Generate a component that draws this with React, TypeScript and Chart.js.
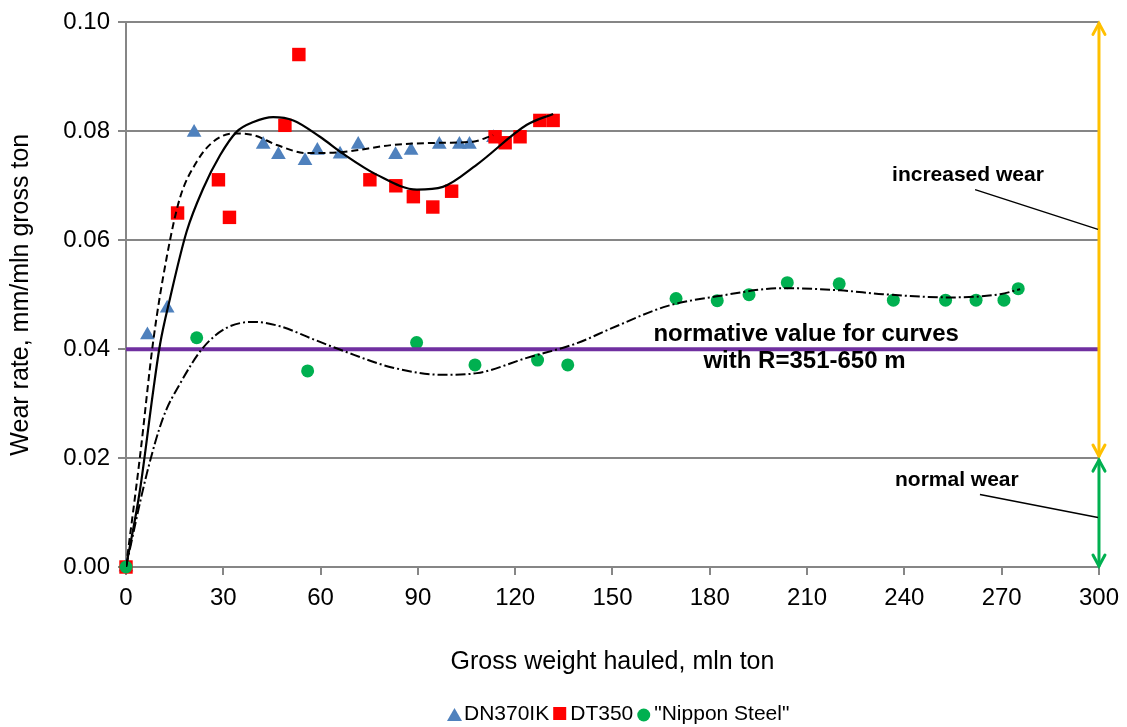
import React, { useEffect, useRef } from 'react';
import { Chart, registerables } from 'chart.js';

Chart.register(...registerables);

// ---- Data ----
const dn370X = [0, 6.6, 12.7, 21.0, 42.3, 47.0, 55.2, 59.0, 66.0, 71.6, 83.1, 87.9, 96.6, 102.8, 105.9, 113.3];
const dn370Y = [0, 0.0426, 0.0475, 0.0798, 0.0776, 0.0757, 0.0746, 0.0765, 0.0758, 0.0776, 0.0757, 0.0765, 0.0776, 0.0776, 0.0776, 0.0788];

const dt350X = [0, 15.9, 28.5, 31.9, 49.0, 53.3, 75.2, 83.2, 88.6, 94.6, 100.4, 113.8, 116.9, 121.5, 127.6, 131.7];
const dt350Y = [0, 0.065, 0.0711, 0.0642, 0.0811, 0.0941, 0.0711, 0.070, 0.068, 0.0661, 0.069, 0.079, 0.0779, 0.079, 0.082, 0.082];

const nipponX = [0, 21.8, 56.0, 89.6, 107.6, 126.9, 136.2, 169.6, 182.3, 192.1, 203.9, 219.9, 236.6, 252.7, 262.1, 270.7, 275.1];
const nipponY = [0, 0.0421, 0.036, 0.0412, 0.0371, 0.038, 0.0371, 0.0493, 0.0489, 0.050, 0.0522, 0.052, 0.049, 0.049, 0.049, 0.049, 0.0511];

// trend curves
const dtTrendX = [0, 4.3, 8.4, 10.5, 13.6, 18.7, 23.8, 29.0, 34.1, 39.3, 45.4, 51.6, 59.8, 66.9, 77.4, 89.7, 97.7, 108.2, 123.6, 131.7];
const dtTrendY = [0, 0.0141, 0.0324, 0.0409, 0.0494, 0.0616, 0.0695, 0.0756, 0.0799, 0.0817, 0.0826, 0.082, 0.079, 0.0759, 0.072, 0.0693, 0.0698, 0.0739, 0.0812, 0.0832];

const dnTrendX = [0, 4.3, 8.4, 12.5, 16.6, 21.8, 26.9, 33.1, 39.3, 46.5, 55.7, 66.9, 82.3, 97.7, 107, 113.2];
const dnTrendY = [0, 0.0202, 0.0415, 0.0567, 0.0677, 0.0744, 0.0781, 0.0796, 0.0793, 0.0775, 0.076, 0.0762, 0.0775, 0.0779, 0.0781, 0.0793];

const nsTrendX = [0, 6.4, 11.5, 16.6, 23.8, 31.0, 39.3, 47.5, 57.8, 66.9, 82.3, 97.7, 108.2, 123.6, 139.1, 149.2, 166.8, 182.2, 202.6, 220.2, 233.4, 254.1, 269.5, 275.7];
const nsTrendY = [0, 0.0171, 0.0275, 0.0336, 0.0403, 0.0439, 0.045, 0.0442, 0.0418, 0.0397, 0.0366, 0.0353, 0.0356, 0.0384, 0.0411, 0.0437, 0.0479, 0.0497, 0.0512, 0.0508, 0.0501, 0.0495, 0.0501, 0.051];

const normativeX = [0, 300];
const normativeY = [0.04, 0.04];

const X_MIN = 0, X_MAX = 300, X_STEP = 30;
const Y_MIN = 0, Y_MAX = 0.1, Y_STEP = 0.02;
const ZONE_X = 300;
const increasedZone = [0.1, 0.02];
const normalZone = [0.02, 0];

const legendLabels = ['DN370IK', 'DT350', '"Nippon Steel"'];
const seriesColors = ['#4F81BD', '#FF0000', '#00B050'];

const FONT = "'Liberation Sans', Arial, sans-serif";

const pts = (xs: number[], ys: number[]) => xs.map((v, i) => ({ x: v, y: ys[i] }));

function drawArrow(ctx: CanvasRenderingContext2D, x: number, y1: number, y2: number, color: string) {
  ctx.save();
  ctx.strokeStyle = color;
  ctx.lineWidth = 3;
  ctx.lineCap = 'round';
  ctx.beginPath();
  ctx.moveTo(x, y1);
  ctx.lineTo(x, y2);
  ctx.stroke();
  const hw = 6, hl = 11;
  ctx.beginPath();
  ctx.moveTo(x - hw, y1 + hl);
  ctx.lineTo(x, y1);
  ctx.lineTo(x + hw, y1 + hl);
  ctx.moveTo(x - hw, y2 - hl);
  ctx.lineTo(x, y2);
  ctx.lineTo(x + hw, y2 - hl);
  ctx.stroke();
  ctx.restore();
}

const annotationPlugin = {
  id: 'wearAnnotations',
  afterDatasetsDraw(chart: any) {
    const { ctx, scales } = chart;
    const x = scales.x, y = scales.y;
    const px = x.getPixelForValue(ZONE_X);
    drawArrow(ctx, px, y.getPixelForValue(increasedZone[0]) + 1, y.getPixelForValue(increasedZone[1]) - 2, '#FFC000');
    drawArrow(ctx, px, y.getPixelForValue(normalZone[0]) + 2, y.getPixelForValue(normalZone[1]) - 1, '#00B050');

    ctx.save();
    ctx.fillStyle = '#000';
    ctx.textBaseline = 'middle';
    ctx.font = `bold 24px ${FONT}`;
    ctx.textAlign = 'center';
    ctx.fillText('normative value for curves', x.getPixelForValue(209.7), y.getPixelForValue(0.0428));
    ctx.fillText('with R=351-650 m', x.getPixelForValue(209.2), y.getPixelForValue(0.0378));

    ctx.font = `bold 21px ${FONT}`;
    ctx.textAlign = 'left';
    ctx.fillText('increased wear', x.getPixelForValue(236.2), y.getPixelForValue(0.072));
    ctx.fillText('normal wear', x.getPixelForValue(237.1), y.getPixelForValue(0.0159));

    ctx.strokeStyle = '#000';
    ctx.lineWidth = 1.5;
    ctx.beginPath();
    ctx.moveTo(x.getPixelForValue(261.8), y.getPixelForValue(0.0693));
    ctx.lineTo(x.getPixelForValue(299.7), y.getPixelForValue(0.062));
    ctx.moveTo(x.getPixelForValue(263.3), y.getPixelForValue(0.0133));
    ctx.lineTo(x.getPixelForValue(299.7), y.getPixelForValue(0.0091));
    ctx.stroke();
    ctx.restore();
  },
  afterDraw(chart: any) {
    const { ctx } = chart;
    ctx.save();
    ctx.font = `21px ${FONT}`;
    ctx.textBaseline = 'middle';
    ctx.textAlign = 'left';
    const cy = 714;
    let cx = 447;
    legendLabels.forEach((label, i) => {
      ctx.fillStyle = seriesColors[i];
      ctx.beginPath();
      if (i === 0) {
        ctx.moveTo(cx + 7.5, cy - 6);
        ctx.lineTo(cx + 15, cy + 7);
        ctx.lineTo(cx, cy + 7);
        ctx.closePath();
        ctx.fill();
      } else if (i === 1) {
        ctx.fillRect(cx, cy - 7, 13, 13);
      } else {
        ctx.arc(cx + 6.5, cy + 1, 6.5, 0, Math.PI * 2);
        ctx.fill();
      }
      cx += 17;
      ctx.fillStyle = '#000';
      ctx.fillText(label, cx, cy);
      cx += ctx.measureText(label).width + 4;
    });
    ctx.restore();
  },
};

export default function App() {
  const ref = useRef<HTMLCanvasElement>(null);
  useEffect(() => {
    Chart.defaults.font.family = FONT;
    Chart.defaults.color = '#000';
    const trend = {
      showLine: true,
      borderColor: '#000',
      pointRadius: 0,
      cubicInterpolationMode: 'monotone',
      order: 0,
    };
    const chart = new Chart(ref.current as HTMLCanvasElement, {
      type: 'scatter',
      data: {
        datasets: [
          { ...trend, label: 'DT350 trend', data: pts(dtTrendX, dtTrendY), borderWidth: 2.2 },
          { ...trend, label: 'DN370IK trend', data: pts(dnTrendX, dnTrendY), borderWidth: 2, borderDash: [7, 4] },
          { ...trend, label: 'Nippon Steel trend', data: pts(nsTrendX, nsTrendY), borderWidth: 2, borderDash: [10, 3, 2, 3] },
          {
            label: 'normative',
            data: pts(normativeX, normativeY),
            showLine: true,
            borderColor: '#7030A0',
            borderWidth: 4,
            pointRadius: 0,
            order: 1,
          },
          {
            label: legendLabels[0],
            data: pts(dn370X, dn370Y),
            pointStyle: 'triangle',
            pointRadius: 8.5,
            backgroundColor: seriesColors[0],
            borderColor: seriesColors[0],
            borderWidth: 0,
            clip: false,
            order: 4,
          },
          {
            label: legendLabels[1],
            data: pts(dt350X, dt350Y),
            pointStyle: 'rect',
            pointRadius: 9.5,
            backgroundColor: seriesColors[1],
            borderColor: seriesColors[1],
            borderWidth: 0,
            clip: false,
            order: 3,
          },
          {
            label: legendLabels[2],
            data: pts(nipponX, nipponY),
            pointStyle: 'circle',
            pointRadius: 6.5,
            backgroundColor: seriesColors[2],
            borderColor: seriesColors[2],
            borderWidth: 0,
            clip: false,
            order: 2,
          },
        ],
      },
      options: {
        animation: false,
        responsive: true,
        maintainAspectRatio: false,
        layout: { padding: { top: 20, right: 0, bottom: 46, left: 0 } },
        plugins: {
          legend: { display: false },
          tooltip: { enabled: false },
        },
        scales: {
          x: {
            type: 'linear',
            min: X_MIN,
            max: X_MAX,
            ticks: { stepSize: X_STEP, font: { size: 24, lineHeight: 1.3 }, color: '#000', padding: 8, maxRotation: 0, autoSkip: false },
            grid: { drawOnChartArea: false, drawTicks: true, tickLength: 8, color: '#868686', lineWidth: 2 },
            border: { color: '#868686', width: 2 },
            title: { display: true, text: 'Gross weight hauled, mln ton', font: { size: 25 }, color: '#000' },
            afterFit: (s: any) => { s.height = 114; },
          },
          y: {
            type: 'linear',
            min: Y_MIN,
            max: Y_MAX,
            ticks: {
              stepSize: Y_STEP,
              font: { size: 24 },
              color: '#000',
              padding: 8,
              callback: (v: any) => Number(v).toFixed(2),
            },
            grid: { color: '#868686', lineWidth: 2, tickLength: 8 },
            border: { color: '#868686', width: 2 },
            title: { display: true, text: 'Wear rate, mm/mln gross ton', font: { size: 25 }, color: '#000', padding: { top: 6, bottom: 4 } },
            afterFit: (s: any) => { s.width = 126; },
          },
        },
      },
      plugins: [annotationPlugin],
    } as any);
    return () => chart.destroy();
  }, []);
  return (
    <div style={{ position: 'fixed', left: 0, top: 0, width: 1127, height: 727, background: '#fff' }}>
      <canvas ref={ref} />
    </div>
  );
}
